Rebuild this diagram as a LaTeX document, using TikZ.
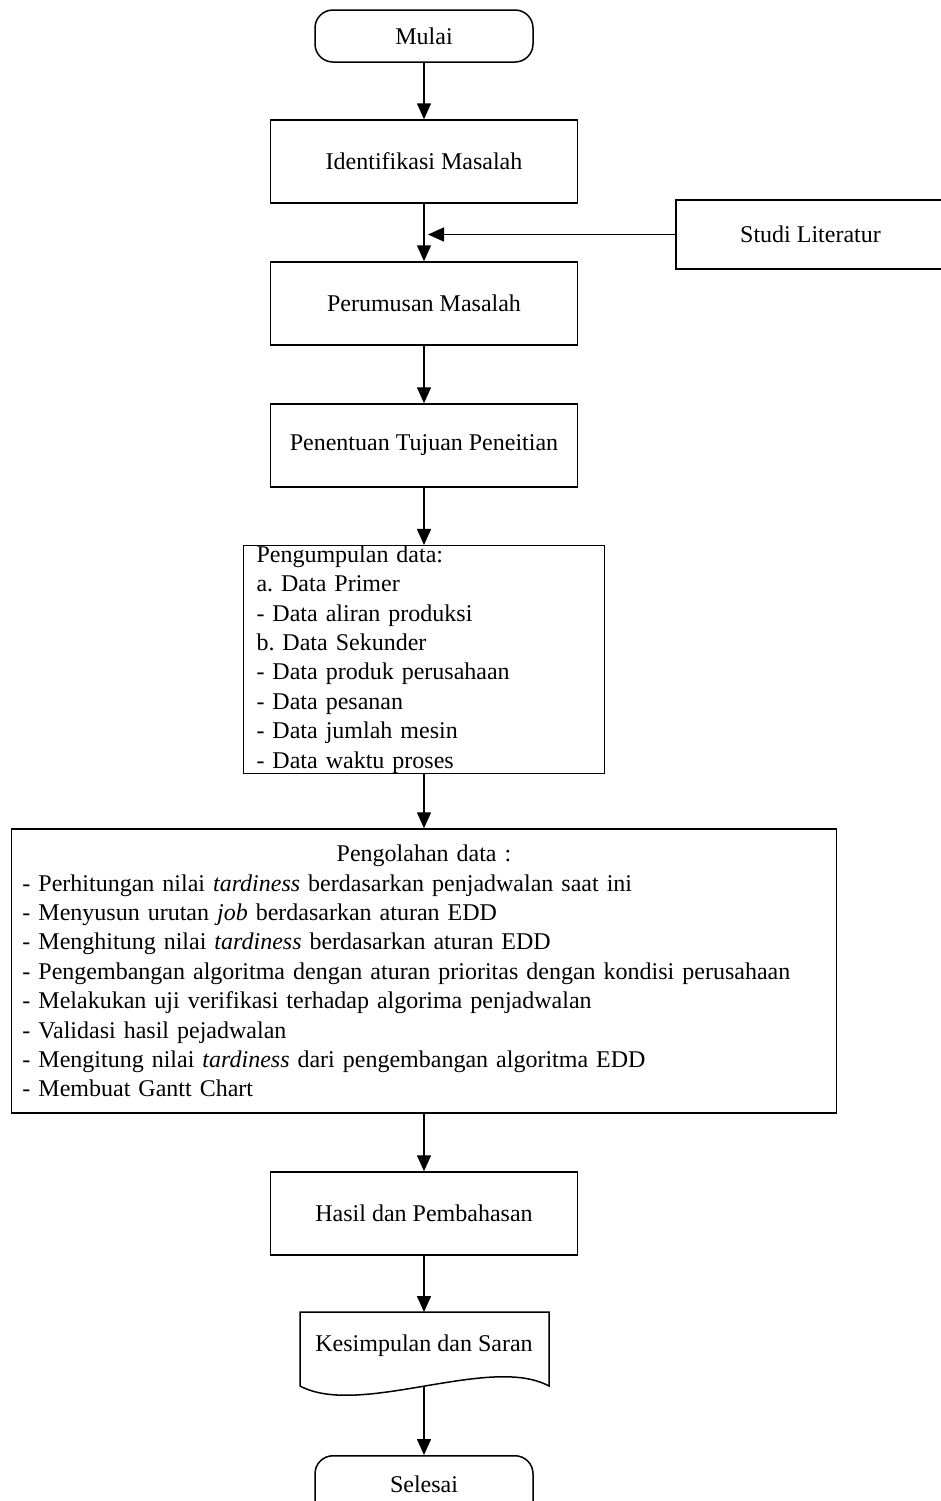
\documentclass[tikz,border=0pt]{standalone}
\usepackage{fontspec}
\setmainfont{Liberation Serif}
\usetikzlibrary{arrows.meta}
\frenchspacing

\tikzset{
  teks/.style={font=\fontsize{12}{14.7}\selectfont},
  proses/.style={teks,draw,minimum width=153.5pt,minimum height=41.5pt},
  terminal/.style={teks,draw,rounded corners=9pt,minimum width=109pt,minimum height=26pt},
  daftar/.style={teks,draw,align=left,inner ysep=0pt},
  panah/.style={-{Triangle[length=8pt,width=7pt]}}
}

\begin{document}
\begin{tikzpicture}[x=0.5pt,y=-0.5pt,line width=0.75pt]
\useasboundingbox (0,0) rectangle (941,1501);

\node[terminal] (mulai) at (424,36) {Mulai};
\node[proses] (identifikasi) at (424,161.5) {Identifikasi Masalah};
\node[proses,minimum width=134.5pt,minimum height=34.5pt] (studi) at (810.5,234.5) {Studi Literatur};
\coordinate (gabung) at (428,234.5);
\node[proses] (perumusan) at (424,303.5) {Perumusan Masalah};
\node[proses] (tujuan) at (424,445.5) {Penentuan Tujuan Peneitian};

\node[daftar,text width=167.5pt,inner xsep=6.5pt,minimum height=112.5pt] (pengumpulan) at (424,659.5) {%
Pengumpulan data:\\
a. Data Primer\\
- Data aliran produksi\\
b. Data Sekunder\\
- Data produk perusahaan\\
- Data pesanan\\
- Data jumlah mesin\\
- Data waktu proses};

\node[daftar,text width=401.5pt,inner xsep=5.5pt,minimum height=142pt] (pengolahan) at (424,971) {%
\makebox[\hsize]{Pengolahan data :}\\
- Perhitungan nilai \textit{tardiness} berdasarkan penjadwalan saat ini\\
- Menyusun urutan \textit{job} berdasarkan aturan EDD\\
- Menghitung nilai \textit{tardiness} berdasarkan aturan EDD\\
- Pengembangan algoritma dengan aturan prioritas dengan kondisi perusahaan\\
- Melakukan uji verifikasi terhadap algorima penjadwalan\\
- Validasi hasil pejadwalan\\
- Mengitung nilai \textit{tardiness} dari pengembangan algoritma EDD\\
- Membuat Gantt Chart};

\node[proses] (hasil) at (424,1213.5) {Hasil dan Pembahasan};

% dokumen
\node[teks] (kesimpulan) at (424,1346) {Kesimpulan dan Saran};
\draw (300,1312) -- (549,1312) -- (549,1386)
  .. controls (490,1354) and (360,1418) .. (300,1386) -- cycle;
\coordinate (kesimpulan-atas) at (424,1312);
\coordinate (kesimpulan-bawah) at (424,1387);

\node[terminal,anchor=north,minimum height=34pt,text depth=6pt] (selesai) at (424,1455) {Selesai};

\draw[panah] (mulai) -- (identifikasi);
\draw[panah] (identifikasi) -- (perumusan);
\draw[panah] (studi) -- (gabung);
\draw[panah] (perumusan) -- (tujuan);
\draw[panah] (tujuan) -- (pengumpulan);
\draw[panah] (pengumpulan) -- (pengolahan);
\draw[panah] (pengolahan) -- (hasil);
\draw[panah] (hasil) -- (kesimpulan-atas);
\draw[panah] (kesimpulan-bawah) -- (selesai);

\end{tikzpicture}
\end{document}
